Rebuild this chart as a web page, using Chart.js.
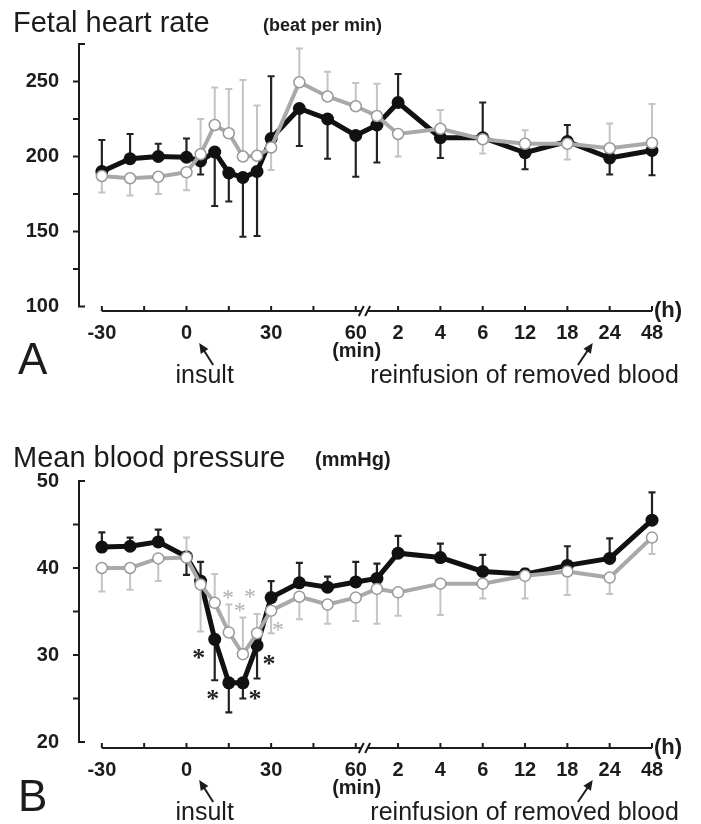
<!doctype html>
<html lang="en">
<head>
  <meta charset="utf-8">
  <title>Fetal heart rate and mean blood pressure</title>
  <script src="https://cdn.jsdelivr.net/npm/chart.js@4.4.1/dist/chart.umd.min.js"></script>
  <style>
    body { margin: 0; background: #fff; }
    .panel { position: absolute; left: 0; width: 701px; height: 387px; }
  </style>
</head>
<body>
  <div class="panel" style="top:0"><canvas id="chartA" width="701" height="387"></canvas></div>
  <div class="panel" style="top:437px"><canvas id="chartB" width="701" height="387"></canvas></div>
  <script>
    // sampling times, and where each one sits on the broken axis (tick index units)
    var times = ['-30','-20','-10','0','5','10','15','20','25','30','40','50','60','90','2h','4h','6h','12h','18h','24h','48h'];
    var xPos = [0, 0.667, 1.333, 2, 2.333, 2.667, 3, 3.333, 3.667, 4, 4.667, 5.333, 6, 6.5, 7, 8, 9, 10, 11, 12, 13];
    var xTickLabels = ['-30','','0','','30','','60','2','4','6','12','18','24','48'];

    // A: fetal heart rate (beat per min); *Err = end of the SD bar
    var hrBlack    = [190, 198.5, 200, 199.5, 197, 203, 189, 186, 190, 212, 232, 225, 214, 221, 236, 212.5, 212.5, 202.5, 210, 199, 204];
    var hrBlackErr = [211, 215, 208.5, 212, 188, 167, 170, 146.5, 147, 253.5, 207, 198.5, 186.5, 196, 255, 199, 236, 191.5, 221, 188, 187.5];
    var hrGrey     = [187, 185.5, 186.5, 189.5, 201.5, 221, 215.5, 200, 200.5, 206, 249.5, 240, 233.5, 227, 215, 218.5, 211.5, 208.5, 208.5, 205.5, 209];
    var hrGreyErr  = [176, 174, 175, 177.5, 225, 246, 245, 251, 234, 191, 272, 256.5, 249, 248.5, 200, 231, 202, 217.5, 198, 222, 235];
    var hrTicks = [100, 125, 150, 175, 200, 225, 250, 275];
    var hrTickLabels = ['100', '', '150', '', '200', '', '250', ''];

    // B: mean blood pressure (mmHg)
    var bpBlack    = [42.4, 42.5, 43.0, 41.3, 38.5, 31.8, 26.8, 26.8, 31.1, 36.6, 38.3, 37.8, 38.4, 38.8, 41.7, 41.2, 39.6, 39.3, 40.3, 41.1, 45.5];
    var bpBlackErr = [44.1, 43.5, 44.4, 39.2, 40.7, 27.1, 23.4, 25.0, 27.3, 38.5, 40.6, 39.0, 40.7, 40.5, 43.7, 42.8, 41.5, 39.9, 42.5, 43.4, 48.7];
    var bpGrey     = [40.0, 40.0, 41.1, 41.2, 38.1, 36.0, 32.6, 30.1, 32.5, 35.1, 36.7, 35.8, 36.6, 37.6, 37.2, 38.2, 38.2, 39.1, 39.6, 38.9, 43.5];
    var bpGreyErr  = [37.3, 37.5, 38.5, 43.5, 32.7, 39.3, 35.8, 34.3, 34.7, 32.5, 34.1, 33.6, 33.9, 33.6, 34.5, 34.6, 36.5, 36.5, 36.9, 37.0, 41.6];
    var bpTicks = [20, 25, 30, 35, 40, 45, 50];
    var bpTickLabels = ['20', '', '30', '', '40', '', '50'];

    // significance marks in B (axis index, mmHg)
    var starBlackX = [2.29, 2.62, 3.62, 3.95];
    var starBlackY = [30.1, 25.4, 25.4, 29.4];
    var starGreyX = [2.98, 3.26, 3.50, 4.16];
    var starGreyY = [37.0, 35.5, 37.1, 33.3];

    var FONT = '"Liberation Sans", Arial, Helvetica, sans-serif';
    var INK = '#1c1c1c';
    var BLACK = '#111111';
    var GREY = '#a9a9a9';
    var GREY_BAR = '#c4c4c4';

    function points(vals) {
      return vals.map(function (v, i) { return { x: xPos[i], y: v }; });
    }

    function arrow(ctx, tx, ty, hx, hy) {
      var ang = Math.atan2(hy - ty, hx - tx);
      ctx.beginPath();
      ctx.moveTo(tx, ty);
      ctx.lineTo(hx - 6 * Math.cos(ang), hy - 6 * Math.sin(ang));
      ctx.stroke();
      ctx.beginPath();
      ctx.moveTo(hx, hy);
      ctx.lineTo(hx - 11 * Math.cos(ang - 0.42), hy - 11 * Math.sin(ang - 0.42));
      ctx.lineTo(hx - 11 * Math.cos(ang + 0.42), hy - 11 * Math.sin(ang + 0.42));
      ctx.closePath();
      ctx.fill();
    }

    var panelPlugin = {
      id: 'panel',
      beforeDatasetDraw: function (chart, args) {
        // SD bars go under their own line
        var p = chart.config.options.plugins.panel;
        var ds = chart.data.datasets[args.index];
        var xs = chart.scales.x, ys = chart.scales.y, ctx = chart.ctx;
        var ends = ds.label === 'black' ? p.blackErr : p.greyErr;
        var vals = ds.label === 'black' ? p.black : p.grey;
        ctx.save();
        ctx.strokeStyle = ds.label === 'black' ? '#222' : GREY_BAR;
        ctx.lineWidth = ds.label === 'black' ? 2.2 : 2;
        ctx.beginPath();
        for (var i = 0; i < vals.length; i++) {
          var x = xs.getPixelForValue(xPos[i]);
          var y1 = ys.getPixelForValue(vals[i]);
          var y2 = ys.getPixelForValue(ends[i]);
          ctx.moveTo(x, y1); ctx.lineTo(x, y2);
          ctx.moveTo(x - 3.5, y2); ctx.lineTo(x + 3.5, y2);
        }
        ctx.stroke();
        ctx.restore();
      },
      afterDraw: function (chart) {
        var p = chart.config.options.plugins.panel;
        var ctx = chart.ctx, area = chart.chartArea, xs = chart.scales.x, ys = chart.scales.y;
        ctx.save();
        ctx.strokeStyle = INK;
        ctx.fillStyle = INK;
        ctx.lineWidth = 2;

        // y axis: bracket ends, ticks out to the left
        var ax = area.left;
        var yTop = ys.getPixelForValue(p.yTicks[p.yTicks.length - 1]);
        var yBot = ys.getPixelForValue(p.yTicks[0]);
        ctx.beginPath();
        ctx.moveTo(ax + 6, yTop); ctx.lineTo(ax, yTop); ctx.lineTo(ax, yBot); ctx.lineTo(ax + 6, yBot);
        p.yTicks.slice(1, -1).forEach(function (v) {
          var y = ys.getPixelForValue(v);
          ctx.moveTo(ax - 6, y); ctx.lineTo(ax, y);
        });
        ctx.stroke();

        // x axis with a break between 60 min and 2 h, ticks pointing up
        var by = area.bottom;
        var b1 = xs.getPixelForValue(6.13), b2 = xs.getPixelForValue(6.28);
        ctx.beginPath();
        ctx.moveTo(xs.getPixelForValue(0), by); ctx.lineTo(b1, by);
        ctx.moveTo(b2, by); ctx.lineTo(xs.getPixelForValue(13), by);
        for (var i = 0; i < xTickLabels.length; i++) {
          var tx = xs.getPixelForValue(i);
          ctx.moveTo(tx, by); ctx.lineTo(tx, by - 5);
        }
        ctx.moveTo(b1 - 2.5, by + 5); ctx.lineTo(b1 + 2.5, by - 5);
        ctx.moveTo(b2 - 2.5, by + 5); ctx.lineTo(b2 + 2.5, by - 5);
        ctx.stroke();

        ctx.textAlign = 'left';
        ctx.font = 'bold 22px ' + FONT;
        ctx.textBaseline = 'middle';
        ctx.fillText('(h)', xs.getPixelForValue(13) + 2, by);
        ctx.textBaseline = 'alphabetic';
        ctx.textAlign = 'center';
        ctx.font = 'bold 20px ' + FONT;
        ctx.fillText('(min)', xs.getPixelForValue(6.02), by + 46);

        // titles
        ctx.textAlign = 'left';
        ctx.font = '29px ' + FONT;
        ctx.fillText(p.title, 13, p.titleY);
        ctx.font = 'bold ' + p.unitSize + 'px ' + FONT;
        ctx.fillText(p.unit, p.unitX, p.titleY - 1);

        // panel letter
        ctx.font = '44px ' + FONT;
        ctx.fillText(p.letter, 18, by + 63);

        // annotations with arrows
        ctx.font = '25px ' + FONT;
        ctx.textAlign = 'center';
        ctx.fillText('insult', xs.getPixelForValue(2.43), by + 72);
        ctx.fillText('reinfusion of removed blood', xs.getPixelForValue(9.99), by + 72);
        ctx.lineWidth = 2;
        arrow(ctx, xs.getPixelForValue(2.63), by + 54, xs.getPixelForValue(2.3), by + 32);
        arrow(ctx, xs.getPixelForValue(11.25), by + 54, xs.getPixelForValue(11.6), by + 32);

        // asterisks
        if (p.stars) {
          ctx.font = 'bold 26px "Liberation Serif", "Times New Roman", serif';
          ctx.fillStyle = '#222';
          starBlackX.forEach(function (v, k) {
            ctx.fillText('*', xs.getPixelForValue(v), ys.getPixelForValue(starBlackY[k]) + 12);
          });
          ctx.font = '24px "Liberation Serif", "Times New Roman", serif';
          ctx.fillStyle = '#b0b0b0';
          starGreyX.forEach(function (v, k) {
            ctx.fillText('*', xs.getPixelForValue(v), ys.getPixelForValue(starGreyY[k]) + 11);
          });
        }
        ctx.restore();
      }
    };

    function makeChart(id, p) {
      return new Chart(document.getElementById(id), {
        type: 'line',
        data: {
          datasets: [
            {
              label: 'grey',
              data: points(p.grey),
              borderColor: GREY,
              borderWidth: 4,
              pointRadius: 5.5,
              pointBackgroundColor: '#ffffff',
              pointBorderColor: '#9a9a9a',
              pointBorderWidth: 1.5,
              tension: 0,
              clip: false
            },
            {
              label: 'black',
              data: points(p.black),
              borderColor: BLACK,
              borderWidth: 5,
              pointRadius: 6.5,
              pointBackgroundColor: BLACK,
              pointBorderColor: BLACK,
              pointBorderWidth: 0,
              tension: 0,
              clip: false
            }
          ]
        },
        options: {
          responsive: false,
          animation: false,
          layout: { padding: { top: 44, right: 49, left: 0, bottom: 0 } },
          plugins: {
            legend: { display: false },
            tooltip: { enabled: false },
            panel: p
          },
          scales: {
            x: {
              type: 'linear',
              min: -0.54,
              max: 13,
              grid: { display: false, drawTicks: false },
              border: { display: false },
              afterBuildTicks: function (s) {
                s.ticks = xTickLabels.map(function (t, i) { return { value: i }; });
              },
              afterFit: function (s) { s.height = 76; },
              ticks: {
                autoSkip: false,
                maxRotation: 0,
                padding: 10,
                color: INK,
                font: { family: FONT, size: 20, weight: 'bold' },
                callback: function (v) { return xTickLabels[v] || ''; }
              }
            },
            y: {
              min: p.yMin,
              max: p.yMax,
              grid: { display: false, drawTicks: false },
              border: { display: false },
              afterBuildTicks: function (s) {
                s.ticks = p.yTicks.map(function (v) { return { value: v }; });
              },
              afterFit: function (s) { s.width = 79; },
              ticks: {
                padding: 20,
                color: INK,
                font: { family: FONT, size: 20, weight: 'bold' },
                callback: function (v, i) { return p.yTickLabels[i]; }
              }
            }
          }
        },
        plugins: [panelPlugin]
      });
    }

    makeChart('chartA', {
      title: 'Fetal heart rate', unit: '(beat per min)', unitX: 263, unitSize: 18, titleY: 32, letter: 'A',
      yMin: 97, yMax: 275, yTicks: hrTicks, yTickLabels: hrTickLabels,
      black: hrBlack, blackErr: hrBlackErr, grey: hrGrey, greyErr: hrGreyErr, stars: false
    });
    makeChart('chartB', {
      title: 'Mean blood pressure', unit: '(mmHg)', unitX: 315, unitSize: 20, titleY: 30, letter: 'B',
      yMin: 19.31, yMax: 50, yTicks: bpTicks, yTickLabels: bpTickLabels,
      black: bpBlack, blackErr: bpBlackErr, grey: bpGrey, greyErr: bpGreyErr, stars: true
    });
  </script>
</body>
</html>
